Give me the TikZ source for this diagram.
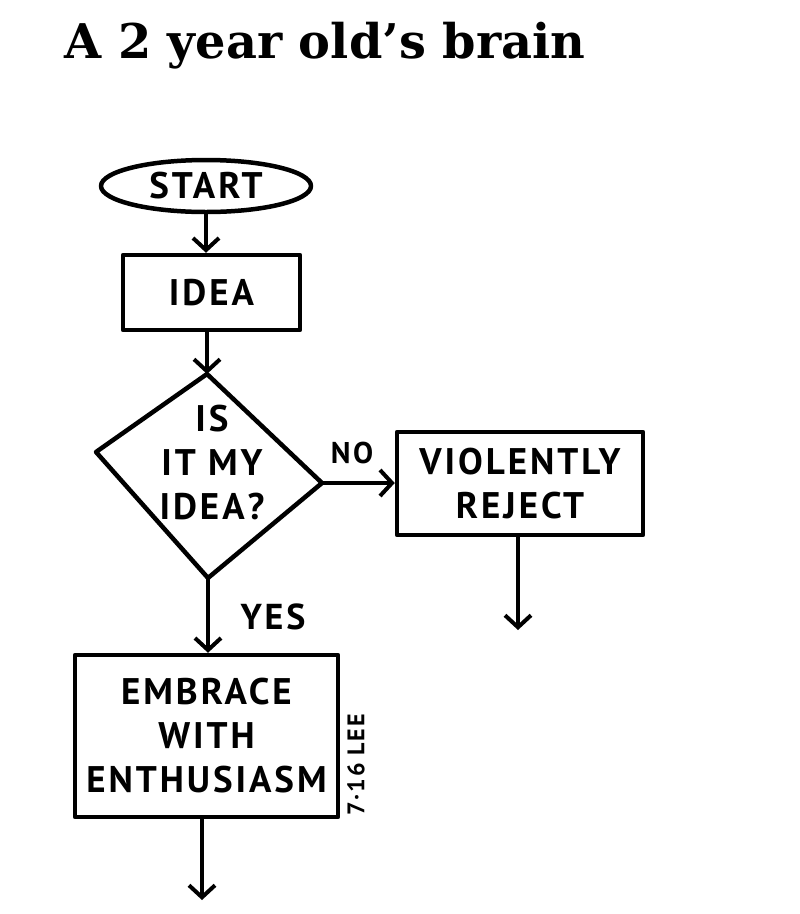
\documentclass[tikz,border=0pt]{standalone}
\usepackage{fontspec}
\newfontfamily\handfont{PT Sans}[LetterSpace=8]
\newfontfamily\titlefont{DejaVu Serif}
\usetikzlibrary{shapes.geometric,arrows.meta}
\begin{document}
\begin{tikzpicture}[x=1pt,y=-1pt,
  line width=4.5pt, line cap=round, line join=round,
  hand/.style={font=\handfont\bfseries\fontsize{37}{44}\selectfont},
  box/.style={draw, line width=4.5pt, inner sep=0pt, align=center, hand},
  flow/.style={draw, line width=4pt, -{Straight Barb[length=12pt,width=26pt,line width=4pt]}},
  lbl/.style={font=\handfont\bfseries\fontsize{#1}{36}\selectfont, inner sep=0pt}]
\useasboundingbox[fill=white] (0,0) rectangle (800,914);

% title
\node[anchor=base west, inner sep=0pt] (title) at (62,58)
  {\resizebox{521pt}{!}{\titlefont\bfseries A 2 year old’s brain}};

% start
\node[ellipse, draw, line width=4.5pt, minimum width=210pt, minimum height=52pt,
      inner sep=0pt, hand] (start) at (206,186) {START};

% idea
\node[box, minimum width=177pt, minimum height=75pt] (idea) at (211.5,292.5) {IDEA};

% decision diamond
\coordinate (dt) at (207,374);
\coordinate (dl) at (96,452);
\coordinate (dr) at (322,483);
\coordinate (db) at (208,578);
\draw[line width=4.5pt] (dt) -- (dr) -- (db) -- (dl) -- cycle;
\node[hand, align=center, inner sep=0pt] (q) at (212,462) {IS\\IT MY\\IDEA?};

% violently reject
\node[box, minimum width=246pt, minimum height=103pt] (vr) at (520,483.5)
  {VIOLENTLY\\REJECT};

% embrace
\node[box, minimum width=263pt, minimum height=162pt] (em) at (206.5,736)
  {EMBRACE\\WITH\\ENTHUSIASM};

% ends of the open arrows
\coordinate (vrend) at (518,630);
\coordinate (emend) at (202,900);

% connectors
\draw[flow] (start.south) -- (start.south |- idea.north);
\draw[flow] (idea.south -| dt) -- (dt);
\draw[flow] (dr) -- (vr.west |- dr);
\draw[flow] (db) -- (db |- em.north);
\draw[flow] (vr.south -| vrend) -- (vrend);
\draw[flow] (em.south -| emend) -- (emend);

% labels
\node[lbl=30] (no) at (352,453) {NO};
\node[lbl=36] (yes) at (273,617) {YES};

% signature
\node[font=\handfont\bfseries\fontsize{24}{26}\selectfont, rotate=90, inner sep=0pt]
  (sig) at (356,765) {7·16 LEE};
\end{tikzpicture}
\end{document}
